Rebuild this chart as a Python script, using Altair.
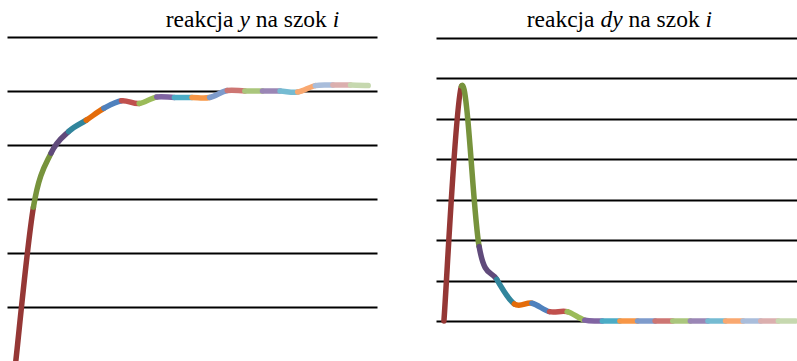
import altair as alt
import pandas as pd

# ---- data -------------------------------------------------------------
steps = list(range(21))
y_resp = [0.0, 2.85, 3.85, 4.25, 4.46, 4.68, 4.82, 4.77, 4.89, 4.88, 4.88,
          4.88, 5.01, 5.00, 5.00, 5.00, 4.98, 5.10, 5.11, 5.11, 5.10]
dy_resp = [0.0, 5.81, 1.84, 1.03, 0.42, 0.44, 0.23, 0.23, 0.02, 0.0, 0.0,
           0.0, 0.0, 0.0, 0.0, 0.0, 0.0, 0.0, 0.0, 0.0, 0.0]
seg_colors = ["#953735", "#77933C", "#604A7B", "#31859C", "#E46C0A",
              "#4F81BD", "#C0504D", "#9BBB59", "#8064A2", "#4BACC6",
              "#F79646", "#7E9BCB", "#CD7673", "#AAC67C", "#9A86B5",
              "#75BBD2", "#F9A870", "#A9BDDB", "#DBAFAE", "#C6D8AF"]
left_grid = [1, 2, 3, 4, 5, 6]
right_grid = [0, 1, 2, 3, 4, 5, 6, 7]
left_title = [("reakcja", False, 158.7), ("y", True, 232.4),
              ("na szok", False, 248.7), ("i", True, 325.7)]
right_title = [("reakcja", False, 90.7), ("dy", True, 164.4),
               ("na szok", False, 192.5), ("i", True, 269.5)]

FONT = "Liberation Serif, Times New Roman, DejaVu Serif, serif"
FSIZE = 23.5


def segments(values):
    rows = []
    n = len(values)
    for k in range(n - 1):
        idx = [max(k - 1, 0), k, k + 1, min(k + 2, n - 1)]
        for o, i in enumerate(idx):
            rows.append({"seg": k, "ord": o, "step": steps[i], "val": values[i]})
    return pd.DataFrame(rows)


def panel(values, xdom, ydom, grid, title, width):
    df = segments(values)
    line = alt.Chart(df).mark_line(
        interpolate="cardinal-open", strokeWidth=5.5, strokeCap="round",
        strokeJoin="round", clip=True
    ).encode(
        x=alt.X("step:Q", scale=alt.Scale(domain=xdom, nice=False, zero=False), axis=None),
        y=alt.Y("val:Q", scale=alt.Scale(domain=ydom, nice=False, zero=False),
                axis=alt.Axis(values=grid, grid=True, gridColor="black", gridWidth=2,
                              gridOpacity=1, labels=False, ticks=False, domain=False,
                              title=None)),
        color=alt.Color("seg:N", scale=alt.Scale(domain=list(range(len(seg_colors))),
                                                 range=seg_colors), legend=None),
        detail="seg:N",
        order="ord:Q",
    )
    normal = pd.DataFrame([{"t": t, "px": x} for t, it, x in title if not it])
    ital = pd.DataFrame([{"t": t, "px": x} for t, it, x in title if it])
    t1 = alt.Chart(normal).mark_text(font=FONT, fontSize=FSIZE, color="black",
                                     align="left", baseline="alphabetic").encode(
        x=alt.X("px:Q", scale=None), y=alt.value(27), text="t:N")
    t2 = alt.Chart(ital).mark_text(font=FONT, fontSize=FSIZE, color="black", fontStyle="italic",
                                   align="left", baseline="alphabetic").encode(
        x=alt.X("px:Q", scale=None), y=alt.value(27), text="t:N")
    return alt.layer(line, t1, t2).resolve_scale(x="independent").properties(
        width=width, height=361)


left = panel(y_resp, [-0.5, 20.5], [0, 361 / 54.0], left_grid, left_title, 370)
right = panel(dy_resp, [-0.45, 20.06], [-40 / 40.43, 321 / 40.43], right_grid, right_title, 361)

chart = alt.hconcat(left, right, spacing=59).properties(
    padding={"left": 7, "top": 0, "right": 0, "bottom": 0},
    bounds="flush",
    background="white",
).configure_view(stroke=None)

chart.save("out.html", embed_options={"renderer": "svg", "actions": False})
